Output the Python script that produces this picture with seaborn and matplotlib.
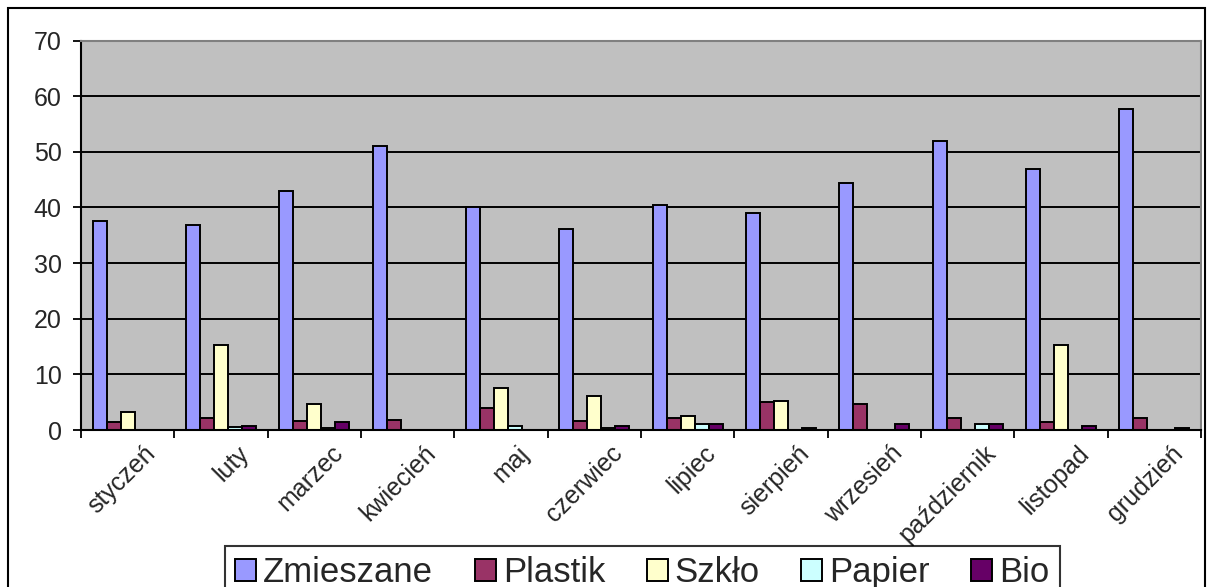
import matplotlib
matplotlib.use("Agg")
import matplotlib.pyplot as plt
import matplotlib.transforms as mtransforms
from matplotlib.patches import Rectangle
import seaborn as sns
import pandas as pd

months = ["styczeń", "luty", "marzec", "kwiecień", "maj", "czerwiec",
          "lipiec", "sierpień", "wrzesień", "październik", "listopad", "grudzień"]
series = ["Zmieszane", "Plastik", "Szkło", "Papier", "Bio"]
zmieszane = [37.5, 36.9, 42.9, 51.1, 40.1, 36.1, 40.5, 39.0, 44.4, 51.9, 46.9, 57.7]
plastik = [1.4, 2.1, 1.7, 1.8, 3.9, 1.7, 2.1, 5.0, 4.7, 2.1, 1.4, 2.1]
szklo = [3.2, 15.3, 4.7, 0.0, 7.5, 6.1, 2.5, 5.3, 0.0, 0.0, 15.3, 0.0]
papier = [0.0, 0.5, 0.4, 0.0, 0.7, 0.4, 1.0, 0.0, 0.0, 1.1, 0.0, 0.0]
bio = [0.0, 0.7, 1.4, 0.0, 0.0, 0.7, 1.1, 0.4, 1.1, 1.1, 0.7, 0.4]
colors = ["#9999FF", "#993366", "#FFFFCC", "#CCFFFF", "#660066"]

values = [zmieszane, plastik, szklo, papier, bio]
df = pd.DataFrame({
    "miesiac": [m for s in values for m in months],
    "rodzaj": [name for name, s in zip(series, values) for _ in s],
    "wartosc": [v for s in values for v in s],
})

sns.set_theme(style="white")
plt.rcParams["font.family"] = ["Liberation Sans", "DejaVu Sans"]

fig = plt.figure(figsize=(12.08, 5.87), dpi=100)
ax = fig.add_axes([81 / 1208, 1 - 430 / 587, 1120 / 1208, 389.5 / 587])
ax.set_facecolor("#C0C0C0")

sns.barplot(data=df, x="miesiac", y="wartosc", hue="rodzaj", order=months,
            hue_order=series, palette=colors, width=0.75, gap=0,
            edgecolor="black", linewidth=1.4, saturation=1, ax=ax, legend=False)

ax.set_ylim(0, 70)
ax.set_xlim(-0.5, len(months) - 0.5)
ax.set_yticks(range(0, 71, 10))
ax.yaxis.grid(True, color="black", linewidth=1.4)
ax.set_axisbelow(True)
ax.set_xlabel("")
ax.set_ylabel("")

for side in ["left", "bottom"]:
    ax.spines[side].set_color("black")
    ax.spines[side].set_linewidth(1.5)
for side in ["top", "right"]:
    ax.spines[side].set_color("#808080")
    ax.spines[side].set_linewidth(1.5)

ax.tick_params(axis="y", direction="out", length=6, width=1.3, color="black",
               labelsize=18, pad=8, left=True)
ax.set_xticks([i - 0.5 for i in range(len(months) + 1)], minor=True)
ax.tick_params(axis="x", which="minor", direction="out", length=6, width=1.3,
               color="black", bottom=True)
ax.tick_params(axis="x", which="major", length=0, labelsize=18, pad=8)

offset = mtransforms.ScaledTranslation(16 / 100, 0, fig.dpi_scale_trans)
for lbl in ax.get_xticklabels():
    lbl.set_rotation(45)
    lbl.set_ha("right")
    lbl.set_va("top")
    lbl.set_rotation_mode("anchor")
    lbl.set_transform(lbl.get_transform() + offset)

handles = [Rectangle((0, 0), 1, 1, facecolor=c, edgecolor="black", linewidth=1.4)
           for c in colors]
leg = fig.legend(handles, series, loc="upper left",
                 bbox_to_anchor=(225 / 1208, 1 - 546 / 587), ncol=5,
                 fontsize=25, frameon=True, fancybox=False, shadow=False,
                 handlelength=0.6, handleheight=0.6, handletextpad=0.2,
                 columnspacing=1.2, borderpad=0.3, borderaxespad=0)
leg.get_frame().set_edgecolor("black")
leg.get_frame().set_linewidth(1.5)

fig.patches.append(Rectangle((8 / 1208, -0.05), 1197 / 1208, 1 - 8 / 587 + 0.05,
                             transform=fig.transFigure, fill=False,
                             edgecolor="black", linewidth=1.5, zorder=0))

fig.savefig("out.png", dpi=100)
